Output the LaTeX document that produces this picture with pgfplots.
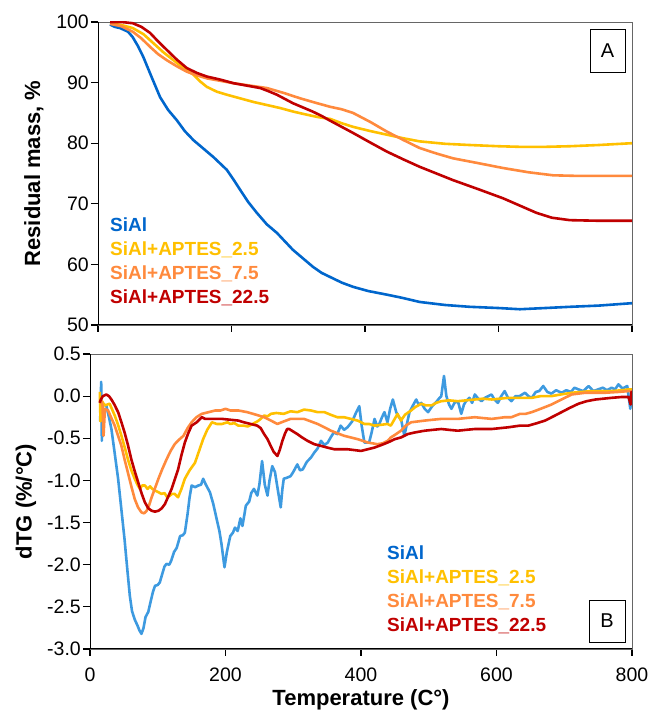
\documentclass[border=0pt]{standalone}
\usepackage{pgfplots}
\pgfplotsset{compat=1.18}
\usepackage{fontspec}
\setmainfont{Liberation Sans}
\definecolor{cBlue}{HTML}{0066CC}
\definecolor{cBlueL}{HTML}{3D9AE0}
\definecolor{cYel}{HTML}{FFC000}
\definecolor{cOra}{HTML}{FF8A3D}
\definecolor{cRed}{HTML}{C00000}
\pgfplotsset{
  common/.style={
    scale only axis, xmin=0, xmax=800, xtick={0,200,...,800},
    xtick pos=bottom, ytick pos=left, tick align=outside,
    major tick length=7pt, tick style={black, line width=1.2pt},
    axis line style={draw=black!60, line width=0.8pt},
    /pgf/number format/assume math mode=true,
    ticklabel style={font=\fontsize{19.5}{23}\selectfont},
    yticklabel style={inner sep=2pt},
    every axis plot/.append style={line width=2.6pt, line join=round, mark=none},
    legend cell align=left, legend image code/.code={},
    legend style={draw=none, fill=none, inner sep=0pt, row sep=6pt, column sep=0pt,
      font=\bfseries\fontsize{19}{23}\selectfont,
      nodes={inner sep=0pt, text height=13.8pt, text depth=4.4pt}},
  }
}
\begin{document}
\begin{tikzpicture}
\useasboundingbox (0,0) rectangle (650pt,712pt);
% ---------------- Panel A ----------------
\begin{axis}[common, at={(98pt,387pt)}, anchor=south west, width=534pt, height=303pt,
  ymin=50, ymax=100, ytick={50,60,...,100}, xticklabels={},
  ylabel={Residual mass, \%},
  every axis y label/.style={at={(axis description cs:-0.12,0.5)}, rotate=90, anchor=center,
    font=\bfseries\fontsize{22}{26}\selectfont},
  legend style={at={(axis description cs:0.0225,0.356)}, anchor=north west}]
\addplot[cBlue] coordinates {(18,99.6) (25,99.2) (33,99.0) (45,98.4) (52,97.5) (60,96.0) (68,94.2) (80,91.0) (93,87.6) (105,85.5) (118,83.8) (130,82.0) (143,80.5) (158,79.1) (173,77.7) (193,75.6) (203,74.0) (213,72.3) (225,70.3) (238,68.5) (253,66.6) (268,65.2) (280,63.8) (292,62.4) (307,61.0) (322,59.6) (335,58.6) (350,57.8) (365,57.0) (382,56.3) (405,55.6) (433,55.0) (455,54.5) (482,53.8) (520,53.3) (557,53.0) (600,52.8) (632,52.6) (670,52.8) (707,53.0) (750,53.2) (800,53.6)};
\addlegendentry{\textcolor{cBlue}{SiAl}}
\addplot[cYel] coordinates {(18,99.8) (35,99.5) (52,99.0) (68,98.0) (83,96.5) (98,95.0) (113,93.7) (128,92.4) (143,91.3) (153,90.2) (163,89.3) (178,88.5) (193,88.0) (213,87.4) (233,86.8) (253,86.3) (273,85.8) (293,85.2) (313,84.7) (330,84.3) (348,84.0) (365,83.3) (382,82.7) (408,82.0) (433,81.4) (458,80.8) (482,80.3) (520,79.9) (557,79.7) (600,79.5) (632,79.4) (670,79.4) (707,79.5) (750,79.7) (800,80.0)};
\addlegendentry{\textcolor{cYel}{SiAl+APTES\_2.5}}
\addplot[cOra] coordinates {(18,99.7) (35,99.3) (52,98.4) (65,97.3) (78,95.9) (90,94.7) (103,93.7) (118,92.7) (133,91.8) (148,91.2) (163,90.7) (183,90.3) (203,89.9) (228,89.5) (253,89.1) (278,88.3) (303,87.4) (325,86.7) (348,86.0) (365,85.6) (382,85.0) (408,83.5) (433,81.9) (458,80.5) (482,79.2) (507,78.3) (532,77.5) (570,76.7) (607,75.9) (645,75.2) (682,74.7) (720,74.6) (760,74.6) (800,74.6)};
\addlegendentry{\textcolor{cOra}{SiAl+APTES\_7.5}}
\addplot[cRed] coordinates {(18,100.0) (35,100.0) (52,99.8) (65,99.2) (78,98.2) (90,96.8) (103,95.4) (118,93.8) (133,92.4) (148,91.6) (163,91.0) (183,90.5) (203,89.9) (223,89.5) (243,89.1) (255,88.6) (268,88.0) (280,87.3) (292,86.6) (307,85.9) (322,85.2) (335,84.5) (348,83.7) (365,82.7) (382,81.7) (408,80.1) (433,78.6) (458,77.3) (482,76.1) (507,75.0) (532,73.9) (570,72.4) (607,70.9) (632,69.7) (657,68.5) (680,67.7) (707,67.3) (750,67.2) (800,67.2)};
\addlegendentry{\textcolor{cRed}{SiAl+APTES\_22.5}}
\draw[black, line width=1.6pt] (rel axis cs:0,1) -- (rel axis cs:0,0) -- (rel axis cs:1,0);
\node[draw=black, line width=0.8pt, fill=white, minimum width=35pt, minimum height=43pt, inner sep=0pt,
  font=\fontsize{20}{24}\selectfont] at (rel axis cs:0.954,0.906) {A};
\end{axis}
% ---------------- Panel B ----------------
\begin{axis}[common, at={(90pt,63pt)}, anchor=south west, width=542pt, height=295pt,
  ymin=-3, ymax=0.5, ytick={-3,-2.5,...,0.5},
  yticklabel style={/pgf/number format/.cd, fixed, fixed zerofill, precision=1},
  xticklabel style={yshift=-8pt},
  xlabel={Temperature (C°)}, ylabel={dTG (\%/°C)},
  every axis y label/.style={at={(axis description cs:-0.118,0.5)}, rotate=90, anchor=center,
    font=\bfseries\fontsize{22}{26}\selectfont},
  every axis x label/.style={at={(axis description cs:0.5,-0.173)}, anchor=center,
    font=\bfseries\fontsize{22}{26}\selectfont},
  legend style={at={(axis description cs:0.548,0.3525)}, anchor=north west}]
\addplot[cBlueL] coordinates {(15,-0.3) (16.5,0.17) (17.5,-0.53) (19,-0.1) (24,-0.11) (28,-0.25) (31.6,-0.39) (36,-0.65) (41.5,-0.98) (46,-1.32) (51,-1.70) (55,-2.05) (58.8,-2.37) (62,-2.55) (66,-2.65) (70,-2.72) (73,-2.78) (76,-2.82) (79,-2.75) (82,-2.62) (86,-2.56) (90,-2.42) (93,-2.32) (96,-2.25) (100,-2.24) (103,-2.21) (107,-2.10) (110,-2.02) (113,-1.99) (117,-2.0) (120,-1.95) (124,-1.85) (128,-1.80) (133,-1.66) (137,-1.65) (140,-1.62) (144,-1.40) (147,-1.20) (150,-1.06) (155,-1.08) (160,-1.06) (164,-1.05) (167,-0.98) (171,-1.05) (177,-1.14) (182,-1.28) (187,-1.46) (191,-1.60) (194,-1.75) (198.5,-2.03) (202,-1.85) (207,-1.66) (211,-1.62) (214,-1.56) (218,-1.60) (222,-1.45) (225,-1.54) (228,-1.40) (230,-1.30) (235,-1.25) (238,-1.15) (242,-1.10) (247,-1.18) (250,-1.05) (254,-0.77) (258,-1.05) (262,-1.18) (265,-1.00) (269,-0.83) (273,-0.90) (277,-1.10) (281.5,-1.32) (284,-1.10) (286,-0.98) (290,-0.97) (296,-0.95) (300,-0.90) (306,-0.81) (310,-0.88) (314,-0.87) (320,-0.78) (326,-0.73) (331,-0.67) (336,-0.62) (341,-0.53) (346,-0.58) (351,-0.55) (356,-0.48) (360,-0.43) (365,-0.45) (370,-0.35) (375,-0.40) (380,-0.37) (387,-0.30) (393,-0.19) (397.5,-0.12) (401,-0.35) (405,-0.55) (412,-0.55) (416,-0.42) (420,-0.27) (424,-0.36) (427,-0.33) (431,-0.25) (434.6,-0.19) (439,-0.31) (443,-0.15) (447,-0.04) (452,-0.19) (456,-0.25) (459,-0.27) (464,-0.47) (468,-0.32) (471.6,-0.19) (476,-0.12) (481.5,-0.04) (485,-0.1) (489,-0.08) (494,-0.15) (499,-0.19) (505,-0.12) (511,-0.07) (515,-0.03) (518.5,0.0) (522.5,0.24) (526,0.0) (530,-0.1) (533.5,-0.15) (538,-0.08) (543,-0.06) (548,-0.21) (552,-0.1) (555,-0.06) (560,-0.02) (564,-0.08) (568,0.02) (573,-0.03) (578,-0.06) (583,-0.02) (588,0.0) (592.6,0.02) (597,-0.04) (602,-0.08) (607,0.0) (612,0.06) (617,-0.02) (622,-0.06) (628,0.0) (634,0.0) (642,0.04) (647,0.0) (652,-0.02) (658,0.05) (663,0.06) (669,0.12) (675,0.05) (681,0.03) (688,0.07) (696,0.04) (703,0.07) (710,0.05) (715,0.10) (721,0.08) (728,0.06) (736,0.12) (743,0.06) (750,0.08) (757,0.10) (763,0.07) (770,0.10) (775,0.08) (780,0.14) (786,0.09) (793,0.12) (797.5,-0.15) (800,0.05)};
\addlegendentry{\textcolor{cBlue}{SiAl}}
\addplot[cYel] coordinates {(14.5,0.05) (15.5,-0.3) (17,-0.05) (21.7,-0.11) (29,-0.09) (36.5,-0.23) (41,-0.33) (46.4,-0.47) (51,-0.60) (56,-0.75) (61,-0.88) (66,-0.98) (70,-1.05) (73.6,-1.10) (77,-1.06) (81,-1.06) (85,-1.10) (88.6,-1.07) (92,-1.10) (96,-1.12) (101,-1.14) (105.6,-1.16) (110,-1.15) (114,-1.20) (118,-1.18) (121,-1.16) (125,-1.16) (130,-1.20) (135,-1.10) (140,-0.98) (147,-0.88) (155,-0.79) (161,-0.65) (167,-0.51) (173,-0.40) (180,-0.31) (187,-0.33) (195,-0.33) (203,-0.31) (207,-0.33) (213,-0.32) (219,-0.35) (227,-0.35) (233,-0.36) (240,-0.33) (247,-0.30) (252,-0.27) (257,-0.23) (262,-0.24) (267,-0.21) (275,-0.20) (286,-0.21) (296,-0.18) (306,-0.19) (316,-0.16) (326,-0.17) (336,-0.19) (346,-0.19) (355,-0.22) (365,-0.25) (375,-0.25) (385,-0.27) (395,-0.29) (405,-0.33) (412,-0.33) (420,-0.35) (430,-0.34) (439,-0.33) (444,-0.35) (449,-0.28) (454,-0.21) (459,-0.29) (465,-0.22) (474,-0.17) (480,-0.13) (489,-0.09) (496,-0.11) (504,-0.11) (511,-0.08) (518.5,-0.06) (530,-0.05) (543,-0.06) (555,-0.05) (568,-0.04) (580,-0.03) (593,-0.04) (605,-0.03) (617,-0.02) (634,-0.02) (652,-0.02) (665,0.0) (681,0.0) (695,0.02) (711,0.04) (725,0.05) (741,0.06) (755,0.06) (770,0.06) (785,0.07) (795,0.08) (800,0.08)};
\addlegendentry{\textcolor{cYel}{SiAl+APTES\_2.5}}
\addplot[cOra] coordinates {(17,-0.05) (18.5,-0.12) (20,-0.47) (22,-0.15) (26.7,-0.17) (31,-0.25) (36.5,-0.35) (41,-0.46) (46.4,-0.59) (51,-0.75) (56,-0.91) (61,-1.07) (66,-1.22) (71,-1.32) (76,-1.38) (80,-1.39) (83.6,-1.36) (87,-1.30) (91,-1.20) (96,-1.09) (101,-0.98) (107,-0.86) (113,-0.75) (119,-0.65) (125,-0.57) (131,-0.52) (138,-0.47) (144,-0.38) (150,-0.31) (157,-0.25) (165,-0.21) (175,-0.19) (185,-0.17) (193,-0.17) (200,-0.15) (207,-0.17) (219,-0.17) (232,-0.19) (245,-0.22) (257,-0.25) (267,-0.29) (276.6,-0.33) (286,-0.30) (296,-0.27) (306,-0.27) (316,-0.27) (326,-0.30) (336,-0.33) (346,-0.37) (355.6,-0.41) (365,-0.44) (375,-0.47) (385,-0.49) (395,-0.51) (410,-0.55) (424,-0.57) (432,-0.56) (439.5,-0.53) (444,-0.49) (450,-0.46) (459,-0.41) (466,-0.35) (474,-0.31) (484,-0.30) (494,-0.29) (506,-0.28) (518.5,-0.27) (530,-0.27) (543,-0.27) (555,-0.26) (568,-0.25) (580,-0.26) (593,-0.27) (603,-0.26) (612,-0.25) (622,-0.25) (634.6,-0.21) (643,-0.21) (652,-0.19) (662,-0.16) (671.6,-0.13) (681,-0.10) (691,-0.06) (701,-0.02) (711,0.02) (721,0.03) (731,0.04) (745,0.04) (760,0.04) (780,0.05) (795,0.06) (800,0.06)};
\addlegendentry{\textcolor{cOra}{SiAl+APTES\_7.5}}
\addplot[cRed] coordinates {(14.3,-0.08) (16,-0.04) (19,0.0) (24,0.02) (28,0.0) (31.6,-0.04) (36,-0.10) (41.5,-0.19) (46,-0.30) (51,-0.43) (56,-0.58) (61,-0.75) (66,-0.89) (71,-1.02) (76,-1.15) (81,-1.26) (86,-1.33) (91,-1.36) (96,-1.37) (101,-1.36) (106,-1.33) (110.6,-1.28) (115,-1.20) (120.5,-1.10) (125,-0.99) (130,-0.87) (135,-0.70) (140,-0.55) (145,-0.44) (150,-0.35) (157.5,-0.31) (165,-0.25) (170,-0.27) (175,-0.27) (185,-0.27) (195,-0.27) (207,-0.28) (219,-0.29) (227,-0.31) (237,-0.33) (247,-0.35) (252,-0.38) (257,-0.45) (262,-0.51) (266.7,-0.59) (271,-0.66) (276.6,-0.71) (280,-0.64) (284,-0.53) (288,-0.44) (291,-0.39) (294,-0.39) (300,-0.42) (306,-0.45) (313,-0.49) (321,-0.53) (331,-0.57) (341,-0.59) (350,-0.61) (360.5,-0.63) (370,-0.63) (380,-0.63) (390,-0.64) (400,-0.65) (410,-0.63) (420,-0.61) (430,-0.58) (439.5,-0.55) (450,-0.51) (459,-0.49) (469,-0.45) (480,-0.43) (494,-0.41) (506,-0.40) (518.5,-0.39) (530,-0.40) (543,-0.41) (555,-0.40) (568,-0.39) (580,-0.39) (593,-0.39) (605,-0.38) (617,-0.37) (634.6,-0.35) (647,-0.35) (660,-0.32) (671.6,-0.29) (684,-0.24) (696,-0.19) (708,-0.14) (721,-0.09) (733,-0.06) (746,-0.04) (758,-0.03) (770,-0.02) (785,-0.01) (795,-0.01) (798,-0.1) (799,0.05) (800,-0.01)};
\addlegendentry{\textcolor{cRed}{SiAl+APTES\_22.5}}
\draw[black, line width=1.6pt] (rel axis cs:0,1) -- (rel axis cs:0,0) -- (rel axis cs:1,0);
\node[draw=black, line width=0.8pt, fill=white, minimum width=36pt, minimum height=42pt, inner sep=0pt,
  font=\fontsize{20}{24}\selectfont] at (rel axis cs:0.954,0.095) {B};
\end{axis}
\end{tikzpicture}
\end{document}
